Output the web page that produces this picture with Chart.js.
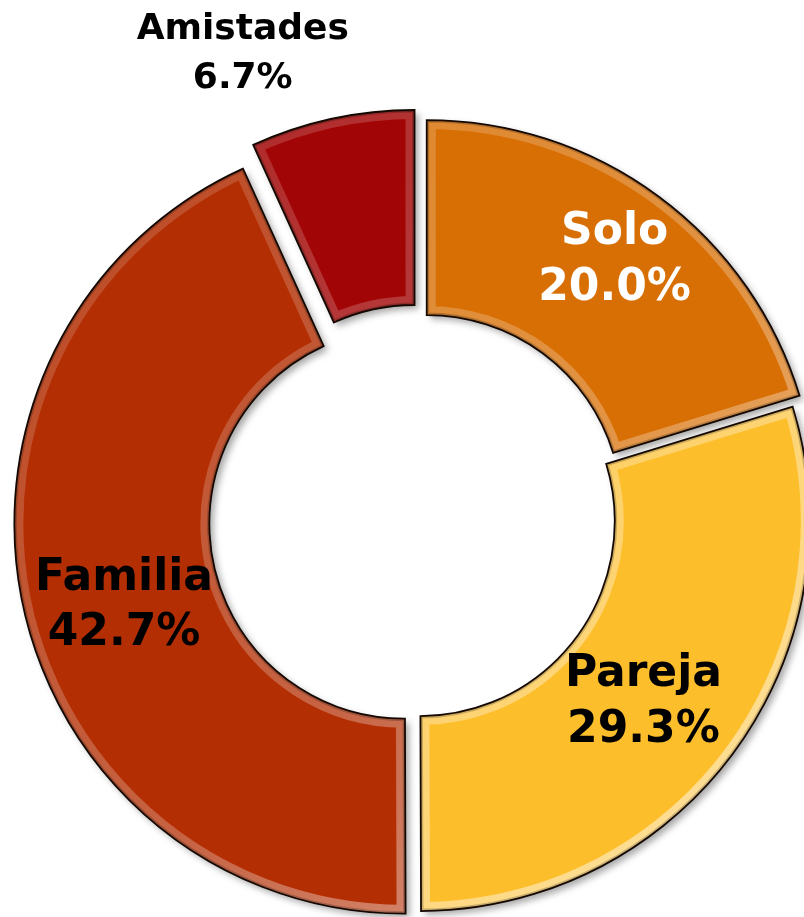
<!DOCTYPE html>
<html>
<head>
<meta charset="utf-8">
<script src="https://cdn.jsdelivr.net/npm/chart.js@4.4.0/dist/chart.umd.min.js"></script>
<style>
  html, body { margin: 0; padding: 0; background: #fff; }
  #wrap { width: 804px; height: 917px; position: relative; }
</style>
</head>
<body>
<div id="wrap"><canvas id="ring"></canvas></div>
<script>
// Data (shares in %, as printed on the labels)
const categories = ['Solo', 'Pareja', 'Familia', 'Amistades'];
const shares = [20.0, 29.3, 42.7, 6.7];

// Styling
const fills = ['#D86F04', '#FDBE2C', '#B32E03', '#A20505'];
const textColors = ['#ffffff', '#000000', '#000000', '#000000'];
const explode = [13, 1, 15, 21];          // px each slice is pulled out
const labelSize = [44, 44, 44, 36];
const labelGap = [56, 56, 55, 49];
// [radius along mid angle, dx, dy]
const labelPlace = [[329, 0, 0], [285, -5, 8], [306, 4, 16], [502, -70, 20]];

function arcPath(ctx, a, i) {
    const mid = (a.startAngle + a.endAngle) / 2;
    const cx = a.x + Math.cos(mid) * explode[i];
    const cy = a.y + Math.sin(mid) * explode[i];
    ctx.beginPath();
    ctx.arc(cx, cy, a.outerRadius, a.startAngle, a.endAngle);
    ctx.arc(cx, cy, a.innerRadius, a.endAngle, a.startAngle, true);
    ctx.closePath();
}

// pull each slice out by a plain translation (the built-in offset also grows the radius)
const explodeSlices = {
    id: 'explodeSlices',
    afterDatasetUpdate(chart, args) {
        args.meta.data.forEach((arc, i) => {
            if (arc._exploded) return;
            const baseDraw = arc.draw;
            arc.draw = function (ctx) {
                const mid = (this.startAngle + this.endAngle) / 2;
                ctx.save();
                ctx.translate(Math.cos(mid) * explode[i], Math.sin(mid) * explode[i]);
                baseDraw.call(this, ctx);
                ctx.restore();
            };
            arc._exploded = true;
        });
    }
};

const dropShadow = {
    id: 'dropShadow',
    beforeDatasetDraw(chart) {
        const ctx = chart.ctx;
        ctx.save();
        ctx.shadowColor = 'rgba(0,0,0,0.35)';
        ctx.shadowBlur = 7;
        ctx.shadowOffsetX = 4;
        ctx.shadowOffsetY = 4;
    },
    afterDatasetDraw(chart) {
        chart.ctx.restore();
    }
};

const bevel = {
    id: 'bevel',
    afterDatasetsDraw(chart) {
        const ctx = chart.ctx;
        chart.getDatasetMeta(0).data.forEach((a, i) => {
            ctx.save();
            arcPath(ctx, a, i);
            ctx.clip();
            const g = ctx.createLinearGradient(a.x - a.outerRadius, a.y - a.outerRadius, a.x + a.outerRadius, a.y + a.outerRadius);
            g.addColorStop(0, 'rgba(255,255,255,0.12)');
            g.addColorStop(0.55, 'rgba(255,255,255,0.25)');
            g.addColorStop(1, 'rgba(255,255,255,0.6)');
            ctx.lineJoin = 'round';
            ctx.strokeStyle = g;
            ctx.lineWidth = 18;
            arcPath(ctx, a, i);
            ctx.stroke();
            ctx.strokeStyle = 'rgba(0,0,0,0.2)';
            ctx.lineWidth = 5;
            ctx.stroke();
            ctx.restore();
            ctx.save();
            arcPath(ctx, a, i);
            ctx.strokeStyle = '#140800';
            ctx.lineWidth = 1.8;
            ctx.stroke();
            ctx.restore();
        });
    }
};

const ringLabels = {
    id: 'ringLabels',
    afterDatasetsDraw(chart) {
        const ctx = chart.ctx;
        chart.getDatasetMeta(0).data.forEach((a, i) => {
            const mid = (a.startAngle + a.endAngle) / 2;
            const [r, dx, dy] = labelPlace[i];
            const x = a.x + Math.cos(mid) * r + dx;
            const y = a.y + Math.sin(mid) * r + dy;
            const size = labelSize[i];
            const capHalf = size * 0.365;
            ctx.save();
            ctx.font = `bold ${size}px "DejaVu Sans"`;
            ctx.fillStyle = textColors[i];
            ctx.textAlign = 'center';
            ctx.textBaseline = 'alphabetic';
            ctx.fillText(categories[i], x, y - labelGap[i] / 2 + capHalf);
            ctx.fillText(shares[i].toFixed(1) + '%', x, y + labelGap[i] / 2 + capHalf);
            ctx.restore();
        });
    }
};

new Chart(document.getElementById('ring'), {
    type: 'doughnut',
    data: {
        labels: categories,
        datasets: [{
            data: shares,
            backgroundColor: fills,
            borderWidth: 0,
            hoverOffset: 0,
            clip: false
        }]
    },
    options: {
        responsive: true,
        maintainAspectRatio: false,
        animation: false,
        radius: 390,
        cutout: '50%',
        layout: { padding: { left: 34, top: 124, right: 0, bottom: 0 } },
        plugins: {
            legend: { display: false },
            tooltip: { enabled: false }
        }
    },
    plugins: [explodeSlices, dropShadow, bevel, ringLabels]
});
</script>
</body>
</html>
